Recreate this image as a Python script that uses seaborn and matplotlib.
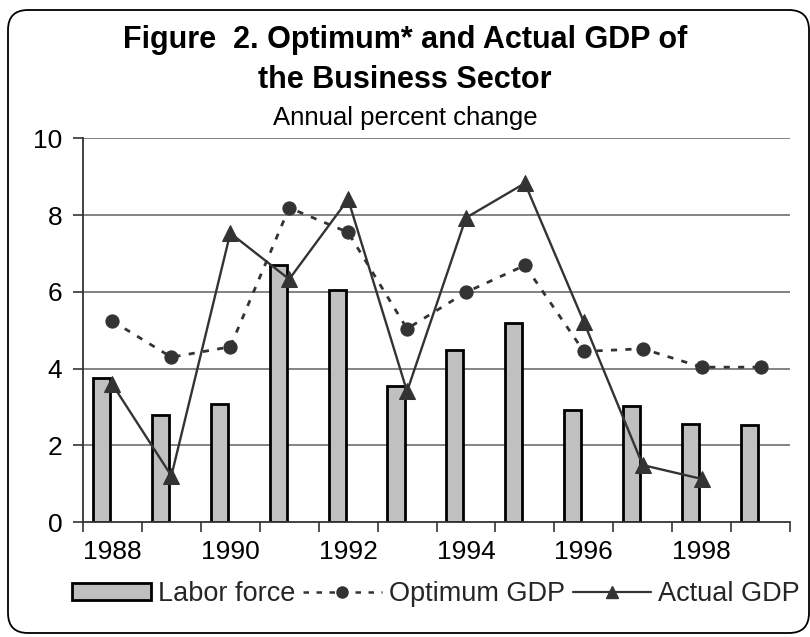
import numpy as np
import pandas as pd
import seaborn as sns
import matplotlib
matplotlib.use("Agg")
import matplotlib.pyplot as plt
from matplotlib.patches import FancyBboxPatch, Patch
from matplotlib.lines import Line2D
from matplotlib.transforms import IdentityTransform

# Annual percent change, business sector
years = [1988, 1989, 1990, 1991, 1992, 1993, 1994, 1995, 1996, 1997, 1998, 1999]
labor_force = [3.75, 2.79, 3.08, 6.70, 6.04, 3.55, 4.49, 5.18, 2.92, 3.03, 2.55, 2.53]
optimum_gdp = [5.24, 4.30, 4.57, 8.19, 7.55, 5.04, 5.99, 6.69, 4.45, 4.52, 4.04, 4.04]
actual_years = [1988, 1989, 1990, 1991, 1992, 1993, 1994, 1995, 1996, 1997, 1998]
actual_gdp = [3.59, 1.21, 7.53, 6.33, 8.41, 3.41, 7.93, 8.83, 5.22, 1.49, 1.13]
year_labels = ["1988", "1990", "1992", "1994", "1996", "1998"]
y_ticks = [0, 2, 4, 6, 8, 10]

sns.set_theme(style="white")
plt.rcParams["font.family"] = ["Liberation Sans", "DejaVu Sans"]

DARK = "#333333"
BAR = "#c0c0c0"
DASH = (0, (2.2, 3.0))

fig = plt.figure(figsize=(8.10, 6.37), dpi=100)
ax = fig.add_axes([83 / 810, (637 - 522.3) / 637, 707 / 810, 384 / 637])

df = pd.DataFrame({"year": years, "labor": labor_force, "optimum": optimum_gdp})
df["bar_x"] = df["year"] - 0.187

sns.barplot(data=df, x="bar_x", y="labor", native_scale=True, width=0.29,
            color=BAR, edgecolor="black", linewidth=2, saturation=1,
            errorbar=None, ax=ax, zorder=3)

sns.lineplot(data=df, x="year", y="optimum", ax=ax, color=DARK, linewidth=2.0,
             linestyle=DASH, marker="o", markersize=9.5,
             markeredgecolor=DARK, zorder=4)

act = pd.DataFrame({"year": actual_years, "actual": actual_gdp})
sns.lineplot(data=act, x="year", y="actual", ax=ax, color=DARK, linewidth=1.7,
             marker="^", markersize=11.5, markeredgecolor=DARK, zorder=5)

ax.set_xlim(years[0] - 0.5, years[-1] + 0.5)
ax.set_ylim(0, 10)
ax.set_xlabel("")
ax.set_ylabel("")

# category boundaries get tick marks; labels sit in the middle of every other year
ax.set_xticks(np.arange(years[0] - 0.5, years[-1] + 1, 1.0))
ax.set_xticklabels([])
ax.set_xticks([int(v) for v in year_labels], minor=True)
ax.set_xticklabels(year_labels, minor=True)
ax.tick_params(axis="x", which="major", direction="out", length=7, width=1.2,
               color=DARK, bottom=True)
ax.tick_params(axis="x", which="minor", length=0, pad=13, labelsize=19,
               labelcolor="black", bottom=True)

ax.set_yticks(y_ticks)
ax.set_yticklabels([str(v) for v in y_ticks])
ax.tick_params(axis="y", direction="out", length=7, width=1.2, color=DARK,
               pad=8, labelsize=19, labelcolor="black", left=True)

ax.grid(False)
for v in y_ticks[1:]:
    ax.axhline(v, color="#7a7a7a", linewidth=1.3, zorder=1)

for side in ("top", "right"):
    ax.spines[side].set_visible(False)
for side in ("left", "bottom"):
    ax.spines[side].set_visible(True)
    ax.spines[side].set_color(DARK)
    ax.spines[side].set_linewidth(1.3)
ax.spines["bottom"].set_zorder(6)

# titles
fig.text(0.5, 1 - 48 / 637, "Figure  2. Optimum* and Actual GDP of", ha="center",
         va="baseline", fontsize=22, fontweight="bold", color="black")
fig.text(0.5, 1 - 88 / 637, "the Business Sector", ha="center",
         va="baseline", fontsize=22, fontweight="bold", color="black")
fig.text(0.5, 1 - 125 / 637, "Annual percent change", ha="center",
         va="baseline", fontsize=18.5, color="black")

# legend
handles = [
    Patch(facecolor=BAR, edgecolor="black", linewidth=2),
    Line2D([], [], color=DARK, linewidth=1.8, linestyle=DASH,
           marker="o", markersize=8),
    Line2D([], [], color=DARK, linewidth=1.6, marker="^", markersize=9),
]
labels = ["Labor force", "Optimum GDP", "Actual GDP"]
fig.legend(handles, labels, loc="center", bbox_to_anchor=(436 / 810, 1 - 594 / 637),
           ncol=3, frameon=False, fontsize=19.5, handlelength=2.9,
           handleheight=0.55, handletextpad=0.25, columnspacing=0.3,
           borderaxespad=0, borderpad=0)

# rounded outer frame
frame = FancyBboxPatch((8, 4), 801, 623, boxstyle="round,pad=0,rounding_size=20",
                       transform=IdentityTransform(), facecolor="none",
                       edgecolor="black", linewidth=1.3)
fig.patches.append(frame)

fig.savefig("out.png", dpi=100)
